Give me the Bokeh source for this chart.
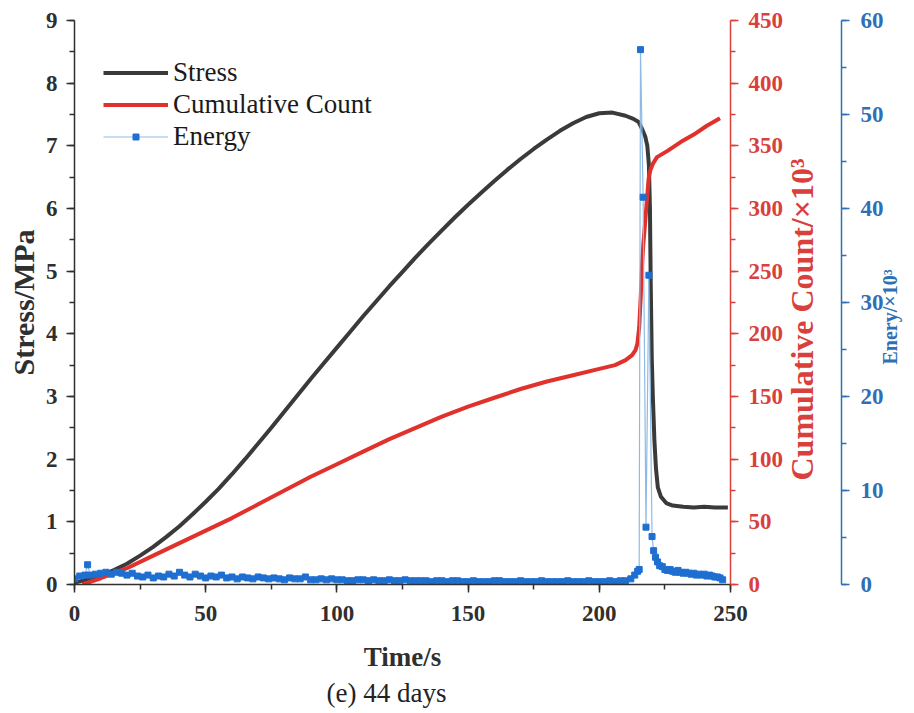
import math
from bokeh.plotting import figure
from bokeh.models import (Range1d, LinearAxis, SingleIntervalTicker,
                          Legend, LegendItem, Title)
from bokeh.embed import file_html
from bokeh.resources import INLINE

# ---------------- data ----------------
stress_time = [0, 5, 10, 15, 20, 25, 30, 35, 40, 45, 50, 55, 60, 65, 70, 75, 80, 85, 90, 95,
               100, 105, 110, 115, 120, 125, 130, 135, 140, 145, 150, 155, 160, 165, 170, 175,
               180, 185, 190, 195, 200, 205, 210, 213, 215, 216.5, 217.5, 218.3, 218.9, 219.3,
               219.6, 220.0, 220.4, 221.0, 221.6, 222.3, 223.5, 225.5, 228, 232, 236, 240, 244, 249]
stress = [0.03, 0.08, 0.14, 0.23, 0.33, 0.46, 0.6, 0.76, 0.93, 1.12, 1.32, 1.53, 1.76, 2.0, 2.25,
          2.5, 2.76, 3.02, 3.28, 3.53, 3.78, 4.03, 4.28, 4.52, 4.76, 4.99, 5.22, 5.44, 5.65, 5.86,
          6.06, 6.25, 6.44, 6.62, 6.79, 6.95, 7.1, 7.24, 7.36, 7.46, 7.52, 7.53, 7.48, 7.43, 7.38,
          7.25, 7.15, 7.0, 6.7, 6.0, 4.8, 3.6, 3.0, 2.3, 1.85, 1.55, 1.4, 1.3, 1.26, 1.24, 1.23,
          1.24, 1.23, 1.23]

count_time = [3, 10, 20, 30, 40, 50, 60, 70, 80, 90, 100, 110, 120, 130, 140, 150, 160, 170, 180,
              190, 200, 206, 210, 212.5, 213.8, 214.5, 215.2, 215.8, 216.3, 216.8, 217.5, 218.2,
              218.8, 219.5, 220.5, 222, 226, 231, 236, 241, 246]
count = [0, 5, 13, 23, 33, 43, 53, 64, 75, 86, 96, 106, 116, 125, 134, 142, 149, 156, 162, 167,
         172, 175, 179, 183, 187, 192, 205, 230, 255, 272, 290, 308, 324, 331, 336, 341, 346, 353,
         359, 366, 372]

energy_time = [0, 2, 4, 5, 6, 8, 10, 12, 14, 16, 18, 20, 22, 24, 26, 28, 30, 32, 34, 36, 38, 40,
               42, 44, 46, 48, 50, 52, 54, 56, 58, 60, 62, 64, 66, 68, 70, 72, 74, 76, 78, 80, 82,
               84, 86, 88, 90, 92, 94, 96, 98, 100, 102, 104, 106, 108, 110, 112, 114, 116, 118,
               120, 122, 124, 126, 128, 130, 132, 134, 136, 138, 140, 142, 144, 146, 148, 150, 152,
               154, 156, 158, 160, 162, 164, 166, 168, 170, 172, 174, 176, 178, 180, 182, 184, 186,
               188, 190, 192, 194, 196, 198, 200, 202, 204, 206, 208, 210, 212, 213.5, 214.6,
               215.2, 215.7, 216.7, 217.8, 218.9, 220.1, 220.7, 221.4,
               222.2, 223, 224, 225, 226, 227, 228, 229, 230, 231, 232, 233, 234, 235, 236, 237,
               238, 239, 240, 241, 242, 243, 244, 245, 246, 247]
energy = [0.6, 0.9, 1.0, 2.1, 1.0, 1.1, 1.2, 1.3, 1.1, 1.3, 1.2, 1.0, 1.2, 0.9, 0.8, 1.0, 0.7, 0.9,
          0.8, 1.1, 0.9, 1.3, 1.0, 0.8, 1.1, 0.9, 0.7, 0.9, 0.8, 1.0, 0.7, 0.8, 0.6, 0.8, 0.7, 0.6,
          0.8, 0.7, 0.6, 0.7, 0.6, 0.5, 0.7, 0.6, 0.6, 0.8, 0.5, 0.5, 0.6, 0.5, 0.6, 0.5, 0.5, 0.4,
          0.4, 0.5, 0.5, 0.4, 0.5, 0.4, 0.4, 0.5, 0.4, 0.4, 0.5, 0.4, 0.4, 0.4, 0.4, 0.3, 0.4, 0.4,
          0.3, 0.4, 0.4, 0.3, 0.3, 0.4, 0.3, 0.3, 0.3, 0.4, 0.4, 0.3, 0.3, 0.3, 0.4, 0.3, 0.3, 0.3,
          0.4, 0.3, 0.3, 0.3, 0.3, 0.4, 0.3, 0.3, 0.3, 0.4, 0.3, 0.3, 0.3, 0.4, 0.3, 0.4, 0.4, 0.6,
          1.0, 1.4, 1.6, 56.9, 41.2, 6.1, 32.9, 5.1, 3.6, 2.9, 2.4, 2.0,
          1.9, 1.6, 1.5, 1.6, 1.4, 1.3, 1.5, 1.3, 1.2, 1.3, 1.2, 1.1, 1.2, 1.0, 1.1, 1.0, 1.1, 0.9,
          1.0, 0.9, 0.8, 0.8, 0.7, 0.5]

x_ticks_interval = 50
stress_tick_interval = 1
count_tick_interval = 50
energy_tick_interval = 10

# ---------------- style ----------------
FONT = "Liberation Serif"
DARK = "#2f2f2f"
RED = "#e0312c"
RED_AX = "#d9403c"
BLUE = "#1f6fd1"
BLUE_AX = "#2e6fb5"
LIGHT_BLUE = "#8dbbe6"
NBSP = "\u00a0"

p = figure(frame_width=656, frame_height=564, x_range=Range1d(0, 250), y_range=Range1d(0, 9),
           output_backend="svg", toolbar_location=None,
           min_border_left=74, min_border_top=20, min_border_right=184, min_border_bottom=0)
p.outline_line_color = None
p.grid.visible = False
p.background_fill_color = "white"
p.border_fill_color = "white"
p.extra_y_ranges = {"count": Range1d(0, 450), "energy": Range1d(0, 60)}


def style_axis(ax, color, title_size, label_color=None):
    ax.axis_line_color = color
    ax.axis_line_width = 1.5
    ax.major_tick_line_color = color
    ax.minor_tick_line_color = color
    ax.major_tick_line_width = 1.5
    ax.minor_tick_line_width = 1.5
    ax.major_tick_in = 0
    ax.major_tick_out = 8
    ax.minor_tick_in = 0
    ax.minor_tick_out = 5
    ax.major_label_text_font = FONT
    ax.major_label_text_font_style = "bold"
    ax.major_label_text_font_size = "23px"
    ax.major_label_text_color = label_color or color
    ax.axis_label_text_font = FONT
    ax.axis_label_text_font_style = "bold"
    ax.axis_label_text_font_size = title_size
    ax.axis_label_text_color = label_color or color


xaxis = p.xaxis[0]
xaxis.ticker = SingleIntervalTicker(interval=x_ticks_interval, num_minor_ticks=2)
xaxis.axis_label = "Time/s"
style_axis(xaxis, DARK, "27px")
xaxis.major_label_standoff = 13
xaxis.axis_label_standoff = 18

yaxis = p.yaxis[0]
yaxis.ticker = SingleIntervalTicker(interval=stress_tick_interval, num_minor_ticks=2)
yaxis.axis_label = "Stress/MPa"
style_axis(yaxis, DARK, "30px")
yaxis.major_label_standoff = 9
yaxis.axis_label_standoff = 3

# right-hand titles read bottom-to-top; they start from the bottom of the axis,
# pushed up by leading no-break spaces
red_axis = LinearAxis(y_range_name="count",
                      axis_label=NBSP * 13 + "Cumulative Count/×10³",
                      ticker=SingleIntervalTicker(interval=count_tick_interval, num_minor_ticks=2))
style_axis(red_axis, RED_AX, "32px")
red_axis.major_label_standoff = 10
red_axis.axis_label_standoff = 16
red_axis.axis_label_orientation = math.pi / 2
red_axis.axis_label_align = "start"
p.add_layout(red_axis, "right")

blue_axis = LinearAxis(y_range_name="energy",
                       axis_label=NBSP * 44 + "Enery/×10³",
                       ticker=SingleIntervalTicker(interval=energy_tick_interval, num_minor_ticks=2))
style_axis(blue_axis, BLUE_AX, "20px")
blue_axis.major_label_standoff = 11
blue_axis.axis_label_standoff = 3
blue_axis.axis_label_orientation = math.pi / 2
blue_axis.axis_label_align = "start"
p.add_layout(blue_axis, "right")

# ---------------- glyphs ----------------
r_stress = p.line(stress_time, stress, line_color="#3a3a3a", line_width=4)
r_count = p.line(count_time, count, line_color=RED, line_width=4, y_range_name="count")
r_energy_line = p.line(energy_time, energy, line_color=LIGHT_BLUE, line_width=1.2,
                       y_range_name="energy")
r_energy_pts = p.scatter(energy_time, energy, marker="square", size=6, fill_color=BLUE,
                         line_color=BLUE, y_range_name="energy")

legend = Legend(items=[
    LegendItem(label="Stress", renderers=[r_stress]),
    LegendItem(label="Cumulative Count", renderers=[r_count]),
    LegendItem(label="Energy", renderers=[r_energy_line, r_energy_pts]),
], location=(29, 432))
legend.label_text_font = FONT
legend.label_text_font_size = "27px"
legend.label_text_color = "#1a1a1a"
legend.label_text_baseline = "alphabetic"
legend.glyph_width = 65
legend.glyph_height = 15
legend.label_height = 32
legend.label_standoff = 5
legend.spacing = 0
legend.padding = 0
legend.margin = 0
legend.border_line_color = None
legend.background_fill_alpha = 0
p.add_layout(legend)

caption = Title(text="(e) 44 days", align="left", offset=252, text_font=FONT,
                text_font_size="27px", text_font_style="normal", text_color="#222222",
                standoff=2)
p.add_layout(caption, "below")

open("out.html", "w").write(file_html(p, INLINE))
